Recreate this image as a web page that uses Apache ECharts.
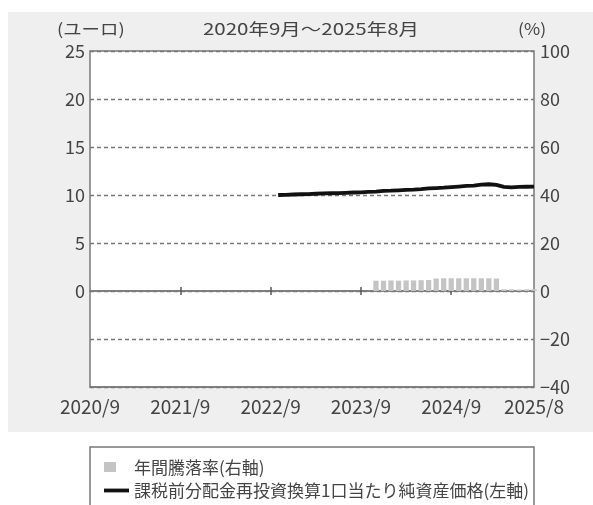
<!DOCTYPE html>
<html><head><meta charset="utf-8">
<script src="https://cdn.jsdelivr.net/npm/echarts@6/dist/echarts.min.js"></script>
<style>html,body{margin:0;padding:0;background:#fff;}#c{width:593px;height:505px;}</style>
</head><body><div id="c"></div>
<script>
const months = [
 '2020/9','2020/10','2020/11','2020/12','2021/1','2021/2','2021/3','2021/4','2021/5','2021/6','2021/7','2021/8',
 '2021/9','2021/10','2021/11','2021/12','2022/1','2022/2','2022/3','2022/4','2022/5','2022/6','2022/7','2022/8',
 '2022/9','2022/10','2022/11','2022/12','2023/1','2023/2','2023/3','2023/4','2023/5','2023/6','2023/7','2023/8',
 '2023/9','2023/10','2023/11','2023/12','2024/1','2024/2','2024/3','2024/4','2024/5','2024/6','2024/7','2024/8',
 '2024/9','2024/10','2024/11','2024/12','2025/1','2025/2','2025/3','2025/4','2025/5','2025/6','2025/7','2025/8'];
const xTickLabels = ['2020/9','2021/9','2022/9','2023/9','2024/9','2025/8'];
const zeroTickMonths = ['2021/9','2022/9','2023/9','2024/9'];
// 課税前分配金再投資換算1口当たり純資産価格 (ユーロ, 左軸)
const navValues = [
 null,null,null,null,null,null,null,null,null,null,null,null,
 null,null,null,null,null,null,null,null,null,null,null,null,
 null,10.00,10.02,10.05,10.08,10.10,10.13,10.16,10.18,10.20,10.23,10.26,
 10.28,10.32,10.36,10.42,10.45,10.49,10.53,10.57,10.62,10.68,10.72,10.76,
 10.82,10.88,10.94,10.98,11.08,11.12,11.05,10.85,10.80,10.84,10.86,10.88];
// 年間騰落率 (%, 右軸)
const returnValues = [
 null,null,null,null,null,null,null,null,null,null,null,null,
 null,null,null,null,null,null,null,null,null,null,null,null,
 null,null,null,null,null,null,null,null,null,null,null,null,
 null,null,4.3,4.3,4.4,4.3,4.4,4.4,4.5,4.6,5.2,5.3,
 5.3,5.3,5.3,5.3,5.3,5.3,5.2,0.7,0.7,0.6,0.7,0.7];
const leftTicks = ['0','5','10','15','20','25'];
const rightTicks = ['-40','-20','0','20','40','60','80','100'];
const headerLeft = '(ユーロ)';
const headerTitle = '2020年9月～2025年8月';
const headerRight = '(%)';

const FONT = '"Noto Sans CJK JP", "Noto Sans", sans-serif';
const TXT = '#444';
const chart = echarts.init(document.getElementById('c'), null, {renderer:'canvas'});
const baseX = { type:'category', data: months, boundaryGap:false, gridIndex:0 };
chart.setOption({
  animation:false,
  textStyle:{fontFamily:FONT},
  graphic:[
    {type:'rect', shape:{x:8,y:12,width:585,height:420}, style:{fill:'#efefef'}, z:-10, silent:true},
    {type:'rect', shape:{x:90,y:447,width:444,height:70}, style:{fill:'#fff',stroke:'#777',lineWidth:1.5}, z:-10, silent:true},
    {type:'text', x:57, y:21, scaleX:1.15, style:{text:headerLeft, font:'16px '+FONT, fill:TXT}},
    {type:'text', x:203, y:21, scaleX:1.28, style:{text:headerTitle, font:'16px '+FONT, fill:TXT}},
    {type:'text', x:518, y:21, scaleX:1.1, style:{text:headerRight, font:'16px '+FONT, fill:TXT}}
  ],
  legend:{
    orient:'vertical', left:99, top:454, itemGap:6, itemWidth:25, itemHeight:11,
    textStyle:{fontSize:17,color:TXT,fontFamily:FONT},
    data:[
      {name:'年間騰落率(右軸)', icon:'path://M0,0L12,0L12,10L0,10ZM25,0L25,11L24.98,11Z'},
      {name:'課税前分配金再投資換算1口当たり純資産価格(左軸)', icon:'path://M0,0L25,0L25,3.8L0,3.8Z'}
    ]
  },
  grid:{left:90,right:59,top:51,bottom:118,show:true,backgroundColor:'#fff',borderColor:'#7a7a7a',borderWidth:1.5},
  xAxis:[
    Object.assign({}, baseX, {
      position:'bottom',
      axisLine:{onZero:false,lineStyle:{color:'#7a7a7a',width:1.5}},
      axisTick:{show:false},
      axisLabel:{interval:(i,v)=>xTickLabels.includes(v), color:TXT, fontSize:19, margin:10, fontFamily:FONT},
      splitLine:{show:false}
    }),
    Object.assign({}, baseX, {
      position:'bottom',
      axisLine:{onZero:true,onZeroAxisIndex:0,lineStyle:{color:'#7a7a7a',width:1.5}},
      axisTick:{show:true,interval:(i,v)=>zeroTickMonths.includes(v),length:4,lineStyle:{color:'#555',width:1.5}},
      axisLabel:{show:false}, splitLine:{show:false}
    }),
    Object.assign({}, baseX, {
      position:'bottom',
      axisLine:{onZero:true,onZeroAxisIndex:0,lineStyle:{color:'#7a7a7a',width:1.5}},
      axisTick:{show:true,inside:true,interval:(i,v)=>zeroTickMonths.includes(v),length:4,lineStyle:{color:'#555',width:1.5}},
      axisLabel:{show:false}, splitLine:{show:false}
    })
  ],
  yAxis:[
    {type:'value', position:'left', min:-10, max:25, interval:5,
     axisLine:{show:false}, axisTick:{show:false},
     axisLabel:{color:TXT, fontSize:18, margin:5, fontFamily:FONT, formatter:v=> leftTicks.includes(String(v)) ? String(v) : ''},
     splitLine:{show:true, lineStyle:{color:'#777', type:[4,3], width:1.3}}},
    {type:'value', position:'right', min:-40, max:100, interval:20,
     axisLine:{show:false}, axisTick:{show:false},
     axisLabel:{color:TXT, fontSize:18, margin:6, fontFamily:FONT, formatter:v=> rightTicks.includes(String(v)) ? String(v).replace('-','−') : ''},
     splitLine:{show:false}}
  ],
  series:[
    {name:'年間騰落率(右軸)', type:'bar', xAxisIndex:0, yAxisIndex:1, data:returnValues,
     barCategoryGap:'30%', itemStyle:{color:'#c4c4c4'}, z:2},
    {name:'課税前分配金再投資換算1口当たり純資産価格(左軸)', type:'line', xAxisIndex:0, yAxisIndex:0, data:navValues,
     symbol:'none', connectNulls:false, lineStyle:{color:'#111', width:3.8}, itemStyle:{color:'#111'}, z:5}
  ]
});
</script></body></html>
